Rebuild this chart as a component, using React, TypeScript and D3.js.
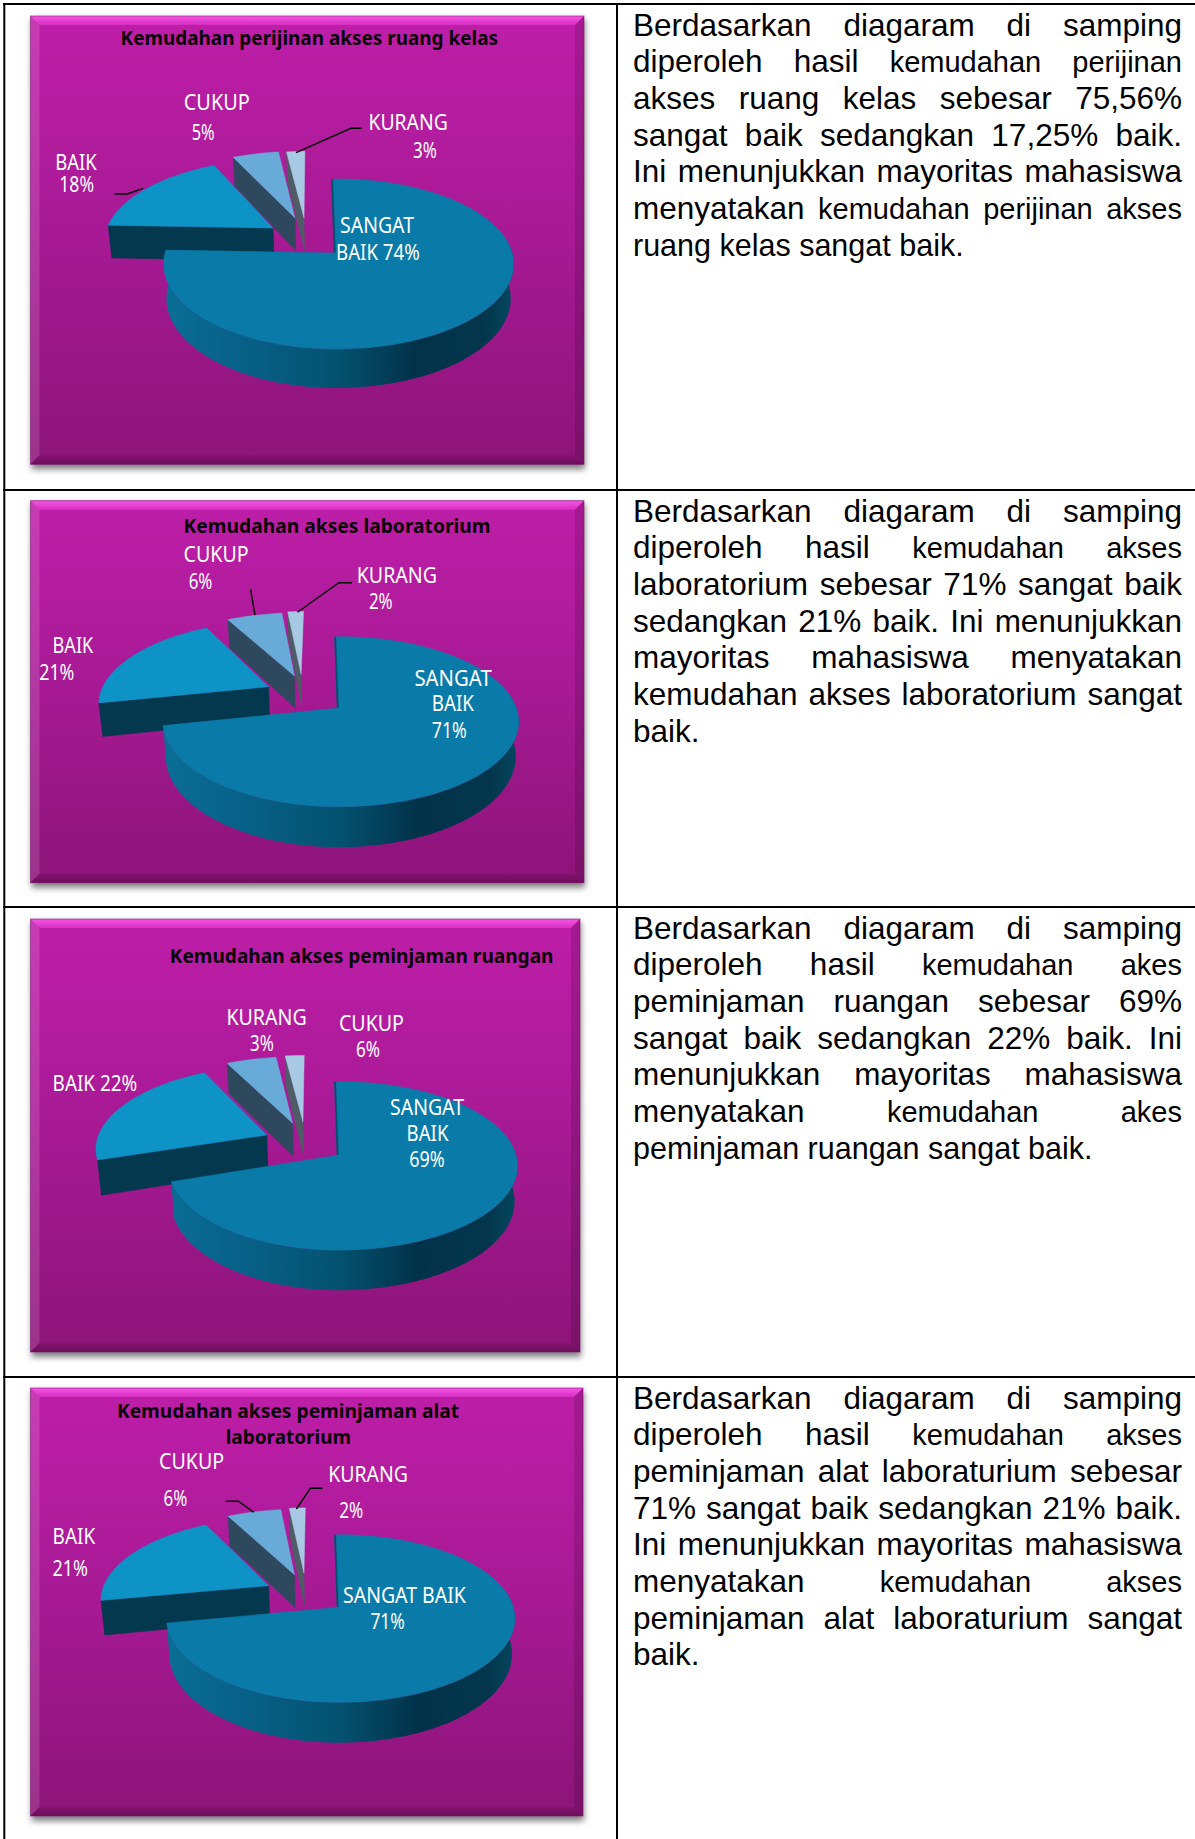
import React from "react";
import * as d3 from "d3";

// ---------- data ----------
const categories = ["SANGAT BAIK", "BAIK", "CUKUP", "KURANG"];
const sliceValues1 = [75.84, 17.25, 4.95, 1.96];
const sliceValues2 = [71.98, 20.3, 6, 1.72];
const sliceValues3 = [70.28, 22.4, 5.3, 2.02];
const sliceValues4 = [72.28, 20.2, 5.8, 1.72];

const titles1 = ["Kemudahan perijinan akses ruang kelas"];
const titles2 = ["Kemudahan akses laboratorium"];
const titles3 = ["Kemudahan akses peminjaman ruangan"];
const titles4 = ["Kemudahan akses peminjaman alat", "laboratorium"];

// words in {braces} are set a little smaller in the original; a leading ~ marks a slightly smaller, unjustified line
const body1 = [
  "Berdasarkan diagaram di samping",
  "diperoleh hasil {kemudahan} {perijinan}",
  "akses ruang kelas sebesar 75,56%",
  "sangat baik sedangkan 17,25% baik.",
  "Ini menunjukkan mayoritas mahasiswa",
  "menyatakan {kemudahan} {perijinan} {akses}",
  "~ruang kelas sangat baik.",
];
const body2 = [
  "Berdasarkan diagaram di samping",
  "diperoleh hasil {kemudahan} {akses}",
  "laboratorium sebesar 71% sangat baik",
  "sedangkan 21% baik. Ini menunjukkan",
  "mayoritas mahasiswa menyatakan",
  "kemudahan akses laboratorium sangat",
  "baik.",
];
const body3 = [
  "Berdasarkan diagaram di samping",
  "diperoleh hasil {kemudahan} {akes}",
  "peminjaman ruangan sebesar 69%",
  "sangat baik sedangkan 22% baik. Ini",
  "menunjukkan mayoritas mahasiswa",
  "menyatakan {kemudahan} {akes}",
  "~peminjaman ruangan sangat baik.",
];
const body4 = [
  "Berdasarkan diagaram di samping",
  "diperoleh hasil {kemudahan} {akses}",
  "peminjaman alat laboraturium sebesar",
  "71% sangat baik sedangkan 21% baik.",
  "Ini menunjukkan mayoritas mahasiswa",
  "menyatakan {kemudahan} {akses}",
  "peminjaman alat laboraturium sangat",
  "baik.",
];

// [text, left, right, baseline]
type Lab = [string, number, number, number];
const labels1: Lab[] = [
  ["CUKUP", 183.8, 249.8, 110], ["5%", 191.7, 214.6, 140],
  ["KURANG", 368.4, 447.8, 130], ["3%", 413, 436.8, 158],
  ["BAIK", 55.3, 96.8, 170], ["18%", 59.3, 94, 191.7],
  ["SANGAT", 340, 414, 233], ["BAIK 74%", 336, 419.8, 260],
];
const labels2: Lab[] = [
  ["CUKUP", 183.5, 248.6, 561.7], ["6%", 188.7, 212.4, 589],
  ["KURANG", 356.7, 437, 583.3], ["2%", 368.9, 392.6, 609.3],
  ["BAIK", 52.6, 93.3, 653.3], ["21%", 39.2, 74.4, 680],
  ["SANGAT", 414.4, 491.7, 686], ["BAIK", 431.8, 474, 710.7], ["71%", 431.8, 466.9, 737.7],
];
const labels3: Lab[] = [
  ["KURANG", 226.4, 306.7, 1025], ["3%", 250, 273.8, 1051],
  ["CUKUP", 338.9, 404, 1031], ["6%", 356, 380, 1057],
  ["BAIK 22%", 52.6, 137.3, 1091],
  ["SANGAT", 390, 464, 1115], ["BAIK", 406.6, 448.4, 1141], ["69%", 409.2, 444.7, 1167],
];
const labels4: Lab[] = [
  ["CUKUP", 159, 224.2, 1469], ["6%", 163.5, 187.2, 1506],
  ["KURANG", 328.2, 408, 1481.7], ["2%", 339.3, 363.3, 1518],
  ["BAIK", 52.6, 95.1, 1544], ["21%", 52.6, 88, 1576.3],
  ["SANGAT BAIK", 343, 465.8, 1603], ["71%", 370.4, 404.8, 1629],
];

// ---------- layout ----------
const W = 1195, H = 1839;
const BODY_SIZE = 31.5, MID_SIZE = 30.5, SMALL_SIZE = 29;
const rowTops = [4, 490, 907, 1377];
const ROT = (1 * Math.PI) / 180;

type Layout = {
  panel: [number, number, number, number];
  values: number[];
  titles: Lab[];
  labels: Lab[];
  leaders: [number, number][][];
  body: string[];
  cx: number; cy: number; a: number; b: number; p: number; depth: number;
  offsets: [number, number][];
  bigR: number; bigL: number; baikF: number;
};

const charts: Layout[] = [
  {
    panel: [30.5, 16, 584, 464.3], values: sliceValues1,
    titles: [[titles1[0], 120.6, 498, 45]], labels: labels1,
    leaders: [
      [[296, 152.7], [351, 128.3], [361.7, 128.3]],
      [[114.6, 194], [127.3, 194], [143, 188.3]],
    ],
    body: body1, cx: 336, cy: 253, a: 177, b: 83.6, p: 0.129, depth: 34,
    offsets: [[0, 0], [-0.37, 0.31], [-0.245, 0.4426], [-0.191, 0.4426]],
    bigR: 0.995, bigL: 0.965, baikF: 0.975,
  },
  {
    panel: [30.5, 500.7, 584, 882.7], values: sliceValues2,
    titles: [[titles2[0], 183.5, 490.6, 533.3]], labels: labels2,
    leaders: [
      [[250.5, 589], [255, 615]],
      [[297.5, 612.3], [338.9, 582.7], [351.9, 582.7]],
    ],
    body: body2, cx: 339, cy: 708, a: 180, b: 82.8, p: 0.161, depth: 34,
    offsets: [[0, 0], [-0.408, 0.268], [-0.264, 0.412], [-0.225, 0.4355]],
    bigR: 0.985, bigL: 0.965, baikF: 0.96,
  },
  {
    panel: [30.5, 919, 580, 1352], values: sliceValues3,
    titles: [[titles3[0], 169.8, 553.5, 962.7]], labels: labels3,
    leaders: [],
    body: body3, cx: 338.9, cy: 1155, a: 178, b: 82.8, p: 0.129, depth: 35,
    offsets: [[0, 0], [-0.418, 0.249], [-0.273, 0.4026], [-0.213, 0.424]],
    bigR: 0.995, bigL: 0.95, baikF: 0.975,
  },
  {
    panel: [30.5, 1388, 583, 1816], values: sliceValues4,
    titles: [[titles4[0], 116.9, 459, 1418.3], [titles4[1], 225.7, 351.1, 1444]], labels: labels4,
    leaders: [
      [[225.7, 1501.3], [238.3, 1501.3], [253.8, 1512.3]],
      [[296.4, 1509], [310.4, 1488.3], [322.6, 1488.3]],
    ],
    body: body4, cx: 338.9, cy: 1607.3, a: 177, b: 82.3, p: 0.134, depth: 35,
    offsets: [[0, 0], [-0.4115, 0.272], [-0.265, 0.418], [-0.209, 0.4414]],
    bigR: 0.985, bigL: 0.965, baikF: 0.965,
  },
];

const topColors = ["#0A7BA8", "#0D93C6", "#69ABD8", "#A7C9E3"];
const sideColors = ["#03384E", "#03384E", "#2E495E", "#4D5C66"];
const lineGen = d3.line<[number, number]>();

let ctx: CanvasRenderingContext2D | null = null;
function measure(s: string, size: number) {
  if (!ctx) ctx = document.createElement("canvas").getContext("2d");
  ctx!.font = `${size}px 'Liberation Sans'`;
  return ctx!.measureText(s).width;
}

function Panel({ c, i }: { c: Layout; i: number }) {
  const [x0, y0, x1, y1] = c.panel;
  const B = 9;
  const poly = (pts: [number, number][], fill: string) => (
    <path d={lineGen(pts) + "Z"} fill={fill} />
  );
  return (
    <g>
      <rect x={x0 + 1} y={y0 + 3} width={x1 - x0} height={y1 - y0 + 2} fill="#000" opacity={0.5} filter="url(#shadow)" />
      <rect x={x0} y={y0} width={x1 - x0} height={y1 - y0} fill={`url(#panel${i})`} />
      {poly([[x0, y0], [x1, y0], [x1 - B, y0 + B], [x0 + B, y0 + B]], "url(#bevelTop)")}
      {poly([[x0, y0], [x0 + B, y0 + B], [x0 + B, y1 - B], [x0, y1]], "#ffffff22")}
      {poly([[x1, y0], [x1 - B, y0 + B], [x1 - B, y1 - B], [x1, y1]], "#00000022")}
      {poly([[x0, y1], [x0 + B, y1 - B], [x1 - B, y1 - B], [x1, y1]], "url(#bevelBottom)")}
      <rect x={x0} y={y0} width={x1 - x0} height={y1 - y0} fill="none" stroke="#7A1068" strokeOpacity={0.55} strokeWidth={1} />
    </g>
  );
}

function Pie3D({ c, i }: { c: Layout; i: number }) {
  const arcs = d3.pie<number>().sort(null).startAngle(-ROT).endAngle(2 * Math.PI - ROT)(c.values);
  const project = (X: number, Y: number, z: number): [number, number] => {
    const den = 1 + c.p * Y;
    return [
      c.cx + (c.a * X / den) * (1 - 0.016 * z),
      c.cy - (c.b * Y) / den + (c.depth * z) / den,
    ];
  };
  const rim = (k: number, th: number, z: number) => {
    const [ox, oy] = c.offsets[k];
    let s = Math.sin(th);
    if (k === 0) s *= s > 0 ? c.bigR : c.bigL;
    if (k === 1) s *= c.baikF;
    return project(ox + s, oy + Math.cos(th), z);
  };
  const apex = (k: number, z: number) => project(c.offsets[k][0], c.offsets[k][1], z);

  const samples = (a: number, b: number) => {
    const n = Math.max(2, Math.ceil((b - a) / 0.02));
    return d3.range(n + 1).map((j) => a + ((b - a) * j) / n);
  };

  const order = [3, 2, 1];
  const big = arcs[0];
  const sideThetas = samples(Math.PI * 0.44, big.endAngle);
  const bigSide = [
    ...sideThetas.map((t) => rim(0, t, 0)),
    ...sideThetas.slice().reverse().map((t) => rim(0, t, 1)),
  ] as [number, number][];
  const bigTop = [apex(0, 0), ...samples(big.startAngle, big.endAngle).map((t) => rim(0, t, 0))] as [number, number][];
  const right = c.cx + c.a, left = c.cx - c.a;
  const edgeTop = rim(0, big.startAngle, 0), edgeApex = apex(0, 0);

  return (
    <g>
      <defs>
        <linearGradient id={`bigSide${i}`} gradientUnits="userSpaceOnUse" x1={left} x2={right} y1={0} y2={0}>
          <stop offset="0" stopColor="#0A6F96" />
          <stop offset="0.2" stopColor="#08628A" />
          <stop offset="0.5" stopColor="#045270" />
          <stop offset="0.72" stopColor="#02324A" />
          <stop offset="0.92" stopColor="#03364C" />
          <stop offset="1" stopColor="#044860" />
        </linearGradient>
      </defs>
      {order.map((k) => {
        const arc = arcs[k];
        const side: [number, number][] = [rim(k, arc.startAngle, 0), apex(k, 0), apex(k, 1), rim(k, arc.startAngle, 1)];
        const top = [apex(k, 0), ...samples(arc.startAngle, arc.endAngle).map((t) => rim(k, t, 0))] as [number, number][];
        return (
          <g key={categories[k]}>
            <path d={lineGen(side) + "Z"} fill={sideColors[k]} stroke={sideColors[k]} strokeWidth={0.5} />
            <path d={lineGen(top) + "Z"} fill={topColors[k]} stroke={topColors[k]} strokeWidth={0.5} />
          </g>
        );
      })}
      <path
        d={lineGen([[edgeTop[0] - 1, edgeTop[1]], [edgeApex[0] - 1, edgeApex[1]]])!}
        stroke="#04506E" strokeWidth={2.5} fill="none"
      />
      <path d={lineGen(bigSide) + "Z"} fill={`url(#bigSide${i})`} />
      <path d={lineGen(bigTop) + "Z"} fill={topColors[0]} stroke={topColors[0]} strokeWidth={0.5} />
    </g>
  );
}

function FittedText({ t, fill, size, weight }: { t: Lab; fill: string; size: number; weight: number }) {
  const [s, l, r, y] = t;
  return (
    <text x={l} y={y} fill={fill} fontFamily="'Noto Sans'" fontSize={size} fontWeight={weight}
      textLength={r - l} lengthAdjust="spacingAndGlyphs">{s}</text>
  );
}

function Body({ lines, top }: { lines: string[]; top: number }) {
  const L = 633, R = 1182;
  return (
    <g fontFamily="'Liberation Sans'" fill="#000">
      {lines.map((raw, j) => {
        const mid = raw.startsWith("~");
        const s = raw.replace("~", "");
        const words = s.split(" ").map((w) => {
          const small = w.startsWith("{");
          const text = w.replace(/[{}]/g, "");
          const size = small ? SMALL_SIZE : mid ? MID_SIZE : BODY_SIZE;
          return { text, size, width: measure(text, size) };
        });
        const total = d3.sum(words, (w) => w.width);
        const last = j === lines.length - 1;
        const space = (mid ? MID_SIZE : BODY_SIZE) * 0.278;
        const gap = last || words.length < 2 ? space : (R - L - total) / (words.length - 1);
        let x = L;
        return (
          <text key={j} y={top + 31.8 + j * 36.65}>
            {words.map((w, k) => {
              const el = (<tspan key={k} x={x} fontSize={w.size}>{w.text}</tspan>);
              x += w.width + gap;
              return el;
            })}
          </text>
        );
      })}
    </g>
  );
}

export default function App() {
  return (
    <svg width={W} height={H} viewBox={`0 0 ${W} ${H}`}
      style={{ position: "absolute", left: 0, top: 0, display: "block", background: "#fff" }}>
      <defs>
        <filter id="shadow" x="-5%" y="-5%" width="110%" height="110%">
          <feGaussianBlur stdDeviation="3" />
        </filter>
        <linearGradient id="bevelTop" x1="0" x2="0" y1="0" y2="1">
          <stop offset="0" stopColor="#F655E4" />
          <stop offset="1" stopColor="#D62FC2" />
        </linearGradient>
        <linearGradient id="bevelBottom" x1="0" x2="0" y1="0" y2="1">
          <stop offset="0" stopColor="#84126F" />
          <stop offset="1" stopColor="#6A0E5A" />
        </linearGradient>
        {charts.map((_, i) => (
          <linearGradient key={i} id={`panel${i}`} x1="0" x2="0" y1="0" y2="1">
            <stop offset="0" stopColor="#BE1EA8" />
            <stop offset="0.45" stopColor="#A91A96" />
            <stop offset="1" stopColor="#8C1478" />
          </linearGradient>
        ))}
      </defs>

      {/* table rules */}
      <g stroke="#000" strokeWidth={2}>
        <line x1={4.3} x2={4.3} y1={3} y2={H} />
        <line x1={617} x2={617} y1={3} y2={H} />
        {rowTops.map((y) => (<line key={y} x1={3} x2={W} y1={y} y2={y} />))}
      </g>

      {charts.map((c, i) => (
        <g key={i}>
          <Panel c={c} i={i} />
          <Pie3D c={c} i={i} />
          {c.leaders.map((pts, j) => (
            <path key={j} d={lineGen(pts)!} fill="none" stroke="#000" strokeWidth={1.4} />
          ))}
          {c.titles.map((t, j) => (<FittedText key={j} t={t} fill="#0A0008" size={19.5} weight={700} />))}
          {c.labels.map((t, j) => (<FittedText key={j} t={t} fill="#FFFFFF" size={21} weight={400} />))}
          <Body lines={c.body} top={rowTops[i]} />
        </g>
      ))}
    </svg>
  );
}
